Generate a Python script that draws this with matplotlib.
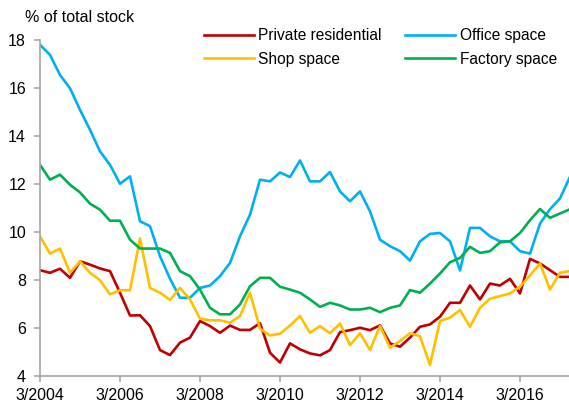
import matplotlib
matplotlib.use("Agg")
import matplotlib.pyplot as plt
import numpy as np

plt.rcParams['font.family'] = ['Liberation Sans', 'DejaVu Sans']

# quarterly, starting 3/2004
start_year = 2004
tick_labels = ['3/2004', '3/2006', '3/2008', '3/2010', '3/2012', '3/2014', '3/2016']

private_residential = [8.41, 8.30, 8.47, 8.09, 8.78, 8.64, 8.48, 8.37, 7.47, 6.52,
                       6.53, 6.08, 5.08, 4.87, 5.39, 5.60, 6.29, 6.08, 5.80, 6.10,
                       5.92, 5.92, 6.20, 4.97, 4.56, 5.36, 5.11, 4.94, 4.86, 5.08,
                       5.83, 5.91, 6.01, 5.91, 6.11, 5.36, 5.22, 5.60, 6.05, 6.15,
                       6.47, 7.05, 7.05, 7.77, 7.19, 7.85, 7.77, 8.05, 7.44, 8.88,
                       8.69, 8.41, 8.13, 8.13]
office_space = [17.80, 17.38, 16.54, 15.99, 15.09, 14.26, 13.36, 12.80, 12.01, 12.32,
                10.45, 10.24, 8.99, 8.05, 7.26, 7.26, 7.67, 7.77, 8.16, 8.71,
                9.82, 10.72, 12.18, 12.11, 12.48, 12.29, 12.98, 12.11, 12.11, 12.50,
                11.69, 11.28, 11.69, 10.86, 9.68, 9.41, 9.20, 8.81, 9.61, 9.92,
                9.96, 9.61, 8.40, 10.17, 10.17, 9.82, 9.61, 9.61, 9.20, 9.10,
                10.35, 10.95, 11.40, 12.30]
shop_space = [9.82, 9.10, 9.31, 8.30, 8.78, 8.30, 7.99, 7.40, 7.57, 7.57,
              9.73, 7.67, 7.47, 7.17, 7.67, 7.19, 6.39, 6.32, 6.32, 6.22,
              6.50, 7.47, 5.97, 5.69, 5.76, 6.10, 6.50, 5.80, 6.08, 5.78,
              6.19, 5.29, 5.78, 5.08, 6.08, 5.18, 5.46, 5.78, 5.66, 4.46,
              6.29, 6.43, 6.75, 6.05, 6.84, 7.22, 7.33, 7.44, 7.72, 8.19,
              8.69, 7.60, 8.30, 8.37]
factory_space = [12.80, 12.18, 12.39, 11.97, 11.65, 11.18, 10.93, 10.47, 10.47, 9.68,
                 9.31, 9.31, 9.31, 9.13, 8.37, 8.16, 7.60, 6.84, 6.57, 6.57,
                 6.98, 7.74, 8.09, 8.09, 7.72, 7.60, 7.47, 7.19, 6.88, 7.05,
                 6.94, 6.77, 6.77, 6.84, 6.66, 6.84, 6.94, 7.58, 7.47, 7.85,
                 8.27, 8.74, 8.92, 9.38, 9.13, 9.20, 9.57, 9.61, 9.96, 10.49,
                 10.96, 10.59, 10.77, 10.95]

x = np.arange(len(office_space))

fig = plt.figure(figsize=(5.69, 4.05), dpi=100)
ax = fig.add_axes([40/569, 29/405, 1 - 40/569, 336/405])

lw = 1.9
ax.plot(x, private_residential, color='#C00000', lw=lw, label='Private residential')
ax.plot(x, office_space, color='#00B0F0', lw=lw, label='Office space')
ax.plot(x, shop_space, color='#FFC000', lw=lw, label='Shop space')
ax.plot(x, factory_space, color='#00B050', lw=lw, label='Factory space')

ax.set_xlim(0, 52.9)
ax.set_ylim(4, 18)
ax.set_yticks(range(4, 19, 2))
ax.set_xticks(range(0, 49, 8))
ax.set_xticklabels(tick_labels)

for s in ['top', 'right']:
    ax.spines[s].set_visible(False)
for s in ['left', 'bottom']:
    ax.spines[s].set_color('#A6A6A6')
    ax.spines[s].set_linewidth(1.2)
ax.tick_params(axis='both', colors='#A6A6A6', labelcolor='black', labelsize=11.5, length=4, width=1.2)
ax.tick_params(axis='y', pad=6)
ax.tick_params(axis='x', pad=5)

fig.text(25/569, 1 - 18/405, '% of total stock', fontsize=11.5, va='center', ha='left')

h, l = ax.get_legend_handles_labels()
order = [0, 2, 1, 3]
ax.legend([h[i] for i in order], [l[i] for i in order], ncol=2, frameon=False,
          fontsize=11.2, loc='upper left', bbox_to_anchor=(204/569, 1 - 28/405),
          bbox_transform=fig.transFigure, borderpad=0, borderaxespad=0,
          handlelength=3.2, handletextpad=0.3, columnspacing=1.5, labelspacing=0.55)

fig.savefig('out.png', dpi=100)
